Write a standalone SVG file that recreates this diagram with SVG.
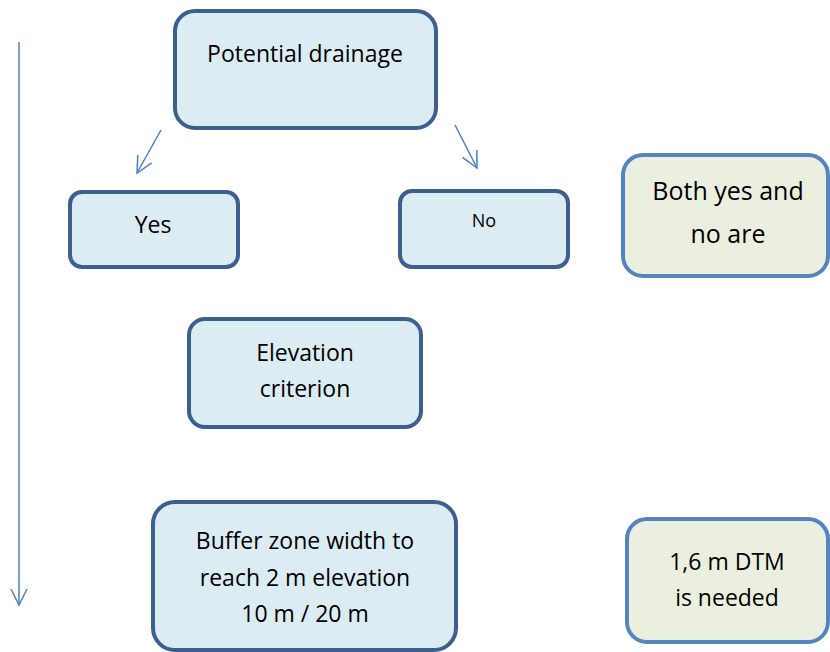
<svg xmlns="http://www.w3.org/2000/svg" width="830" height="652" viewBox="0 0 830 652">
<style>
.b{fill:#dbedf3;stroke:#3d5f8f;stroke-width:4}
.g{fill:#ebefdf;stroke:#5585c0;stroke-width:4}
text{font-family:"Open Sans","Noto Sans","Liberation Sans",sans-serif;fill:#000;text-anchor:middle}
.t{font-size:23px}
.l{font-size:25px}
.c{stroke:#4f81bd;stroke-width:1.5;fill:none}
</style>
<defs>
<marker id="ah" viewBox="0 0 20 20" refX="18" refY="10" markerWidth="20" markerHeight="20" markerUnits="userSpaceOnUse" orient="auto">
<path d="M2,2 L18,10 L2,18" fill="none" stroke="#4f81bd" stroke-width="1.5"/>
</marker>
</defs>
<rect width="830" height="652" fill="#fff"/>
<g id="connectors">
<line class="c" x1="19" y1="42" x2="19" y2="605" marker-end="url(#ah)"/>
<line class="c" x1="161" y1="130" x2="137" y2="173" marker-end="url(#ah)"/>
<line class="c" x1="455" y1="125" x2="477" y2="168" marker-end="url(#ah)"/>
</g>
<g id="potential"><rect class="b" x="175" y="11" width="261" height="117" rx="20"/><text class="t" x="305" y="62">Potential drainage</text></g>
<g id="yes"><rect class="b" x="70" y="192" width="168" height="75" rx="12"/><text class="t" x="153" y="233">Yes</text></g>
<g id="no"><rect class="b" x="400" y="191" width="168" height="76" rx="12"/><text x="484" y="227" font-size="18">No</text></g>
<g id="both"><rect class="g" x="623" y="155" width="205" height="121" rx="20"/><text class="l" x="728" y="200">Both yes and</text><text class="l" x="728" y="243">no are</text></g>
<g id="elevation"><rect class="b" x="189" y="319" width="232" height="108" rx="16"/><text class="t" x="305" y="361">Elevation</text><text class="t" x="305" y="397">criterion</text></g>
<g id="buffer"><rect class="b" x="153" y="502" width="303" height="148" rx="22"/><text class="t" x="305" y="549">Buffer zone width to</text><text class="t" x="305" y="586">reach 2 m elevation</text><text class="t" x="305" y="622">10 m / 20 m</text></g>
<g id="dtm"><rect class="g" x="627" y="519" width="201" height="123" rx="20"/><text class="t" x="727" y="570">1,6 m DTM</text><text class="t" x="727" y="606">is needed</text></g>
</svg>
